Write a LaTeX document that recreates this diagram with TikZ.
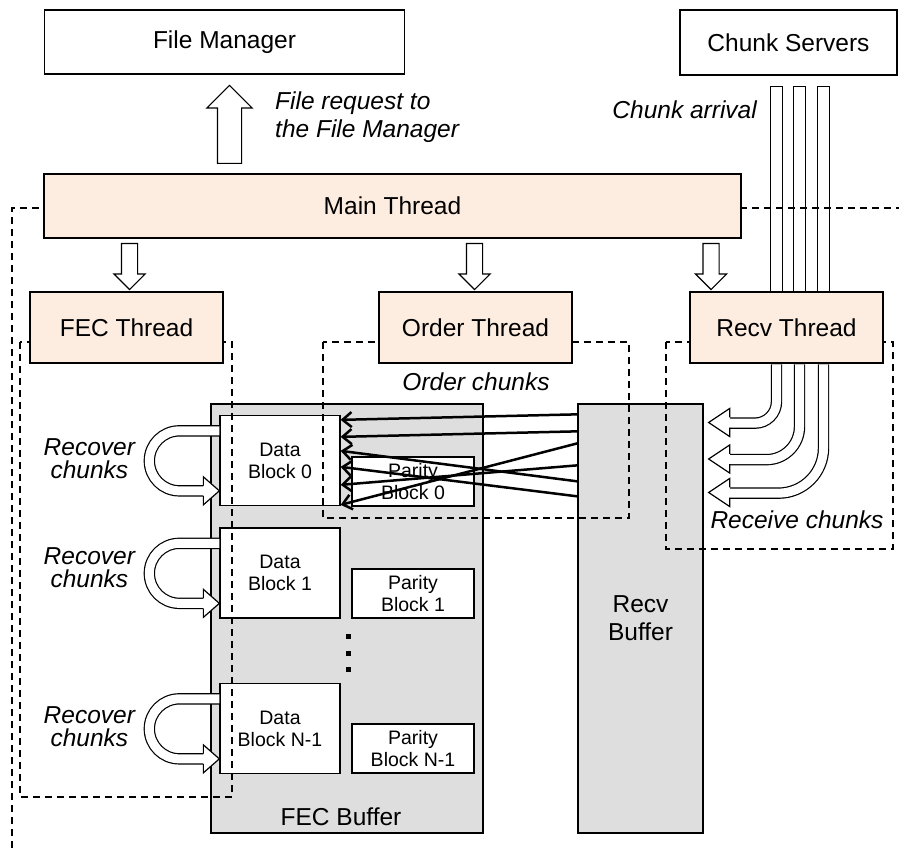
\documentclass[tikz,border=0pt]{standalone}
\usepackage{fontspec}
\setmainfont{Liberation Sans}
\usetikzlibrary{arrows.meta,shapes.arrows,calc,positioning}
\definecolor{cthr}{RGB}{253,236,224}
\definecolor{cbuf}{RGB}{222,222,222}
\newcommand{\bigtxt}{\fontsize{24.5}{28}\selectfont}
\newcommand{\smltxt}{\fontsize{19.5}{22}\selectfont}

\begin{document}
\begin{tikzpicture}[
    x=1pt, y=-1pt,
    box/.style={draw, line width=1.3pt, inner sep=0pt, font=\bigtxt, align=center},
    thr/.style={box, fill=cthr, minimum width=193pt, minimum height=71pt},
    buf/.style={box, fill=cbuf},
    blk/.style={draw, fill=white, line width=1.3pt, inner sep=0pt, font=\smltxt, align=center},
    zone/.style={line width=1.3pt, dash pattern=on 7pt off 5pt},
    lbl/.style={font=\bigtxt\itshape, inner sep=0pt, align=center},
    fat/.style={single arrow, draw, fill=white, line width=1.2pt, inner xsep=0pt,
                inner ysep=7.5pt, single arrow head extend=7.5pt, minimum height=46pt},
    hollow/.style={line width=1.2pt, double=white, double distance=9pt},
    barb/.style={draw, fill=white, line width=1.2pt, line join=miter},
    ord/.style={-{Straight Barb[length=9pt,width=15pt]}, line width=2.5pt}
  ]
  \useasboundingbox (0,0) rectangle (899,850);
  % main thread scope
  \draw[zone] (12,860) |- (910,208);

  % buffers and blocks
  \node[buf, minimum width=272pt, minimum height=429pt] (fb) at (347,618.5) {};
  \node[buf, minimum width=125pt, minimum height=429pt] (rb) at (640.5,618.5) {Recv\\Buffer};
  \node[blk, minimum width=120pt, minimum height=90pt] (d0) at (280,460.5) {Data\\Block 0};
  \node[blk, minimum width=120pt, minimum height=90pt] (d1) at (280,573) {Data\\Block 1};
  \node[blk, minimum width=120pt, minimum height=90pt] (dn) at (280,728.5) {Data\\Block N-1};
  \node[blk, minimum width=122pt, minimum height=49pt] (p0) at (413,481.5) {Parity\\Block 0};
  \node[blk, minimum width=122pt, minimum height=49pt] (p1) at (413,593.5) {Parity\\Block 1};
  \node[blk, minimum width=122pt, minimum height=49pt] (pn) at (413,748.5) {Parity\\Block N-1};
  \foreach \y in {636,653,669}
    \fill (345.5,\y-2.5) rectangle ++(5,5);

  % recover loops
  \foreach \b in {d0,d1,dn} {
    \draw[hollow] ($(\b.north west)+(0,16)$) -- ++(-40,0)
      arc[start angle=270, end angle=90, radius=30] -- ++(25,0);
    \draw[barb] ($(\b.north west)+(-16,70.8)$) -- ++(0,-8.8) -- ++(16,14)
      -- ++(-16,14) -- ++(0,-8.8);
  }

  % thread scopes
  \draw[zone] (20,342) rectangle (232,797);
  \draw[zone] (323,342) rectangle (629,518);
  \draw[zone] (666,342) rectangle (893,549);

  % servers and threads
  \node[box, minimum width=360pt, minimum height=64pt] (fm) at (224.5,42) {File Manager};
  \node[box, minimum width=217pt, minimum height=65pt] (cs) at (788.5,42.5) {Chunk Servers};
  \node[box, fill=cthr, minimum width=697pt, minimum height=64pt] (mt) at (392.5,206) {Main Thread};
  \node[thr] (ft) at (126.5,327.5) {FEC Thread};
  \node[thr] (ot) at (475.5,327.5) {Order Thread};
  \node[thr] (rt) at (786.5,327.5) {Recv Thread};

  % chunk arrival
  \foreach \dx in {-10,13,37}
    \draw[line width=1.2pt] ($(rt.north)+({\dx-5.75},0)$) rectangle ++(11.5,-205);

  % receive chunks
  \foreach \dx/\r/\y in {-10/21.5/422.5, 13/33/459, 37/45/492.5} {
    \draw[hollow] ($(rt.south)+(\dx,0.7)$) -- ++(0,{\y-363.7-\r})
      arc[start angle=0, end angle=90, radius=\r] -- ++({-(56.5+\dx-\r)},0);
    \coordinate (tip) at ($(rb.east |- 0,\y)+(5,0)$);
    \draw[barb] ($(tip)+(21,-5.2)$) -- ++(0,-8.8) -- (tip) -- ++(21,14) -- ++(0,-8.8);
  }

  % block arrows
  \node[fat, rotate=90, anchor=tail, inner ysep=11.5pt, single arrow head extend=10.5pt,
        minimum height=78pt] (req) at (229.5,164) {};
  \node[fat, rotate=-90, anchor=tail] (a1) at (129.5,243) {};
  \node[fat, rotate=-90, anchor=tail] (a2) at (474.5,243) {};
  \node[fat, rotate=-90, anchor=tail] (a3) at (711,243) {};

  % order chunks
  \foreach \a/\b in {11/5, 28/22, 40/90, 62/70, 78/36, 93/52}
    \draw[ord] ($(rb.north west)+(0,\a)$) -- ($(d0.north east)+(0,\b)$);

  % labels
  \node[lbl, anchor=west, align=left] at (275,117.5) {File request to\\the File Manager};
  \node[lbl, anchor=east] at (757,110) {Chunk arrival};
  \node[lbl] at (476,382) {Order chunks};
  \node[lbl] at (797,520) {Receive chunks};
  \node[font=\bigtxt, inner sep=0pt] at (341,817) {FEC Buffer};
  \foreach \b/\dy in {d0/-2, d1/-5, dn/-2}
    \node[lbl, font=\fontsize{24.5}{23}\selectfont\itshape] at ($(\b.west)+(-130,\dy)$) {Recover\\chunks};
\end{tikzpicture}
\end{document}
